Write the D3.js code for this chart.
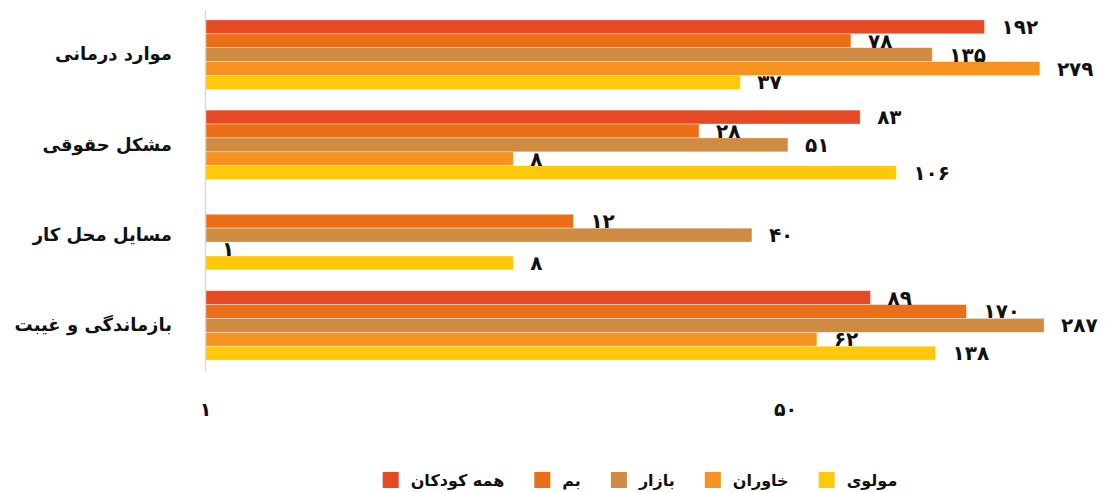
<!DOCTYPE html>
<html>
<head>
<meta charset="utf-8">
<script src="https://cdn.jsdelivr.net/npm/d3@7"></script>
<style>
  html, body { margin: 0; padding: 0; background: #fff; }
  svg { display: block; font-family: "DejaVu Sans", sans-serif; }
</style>
</head>
<body>
<svg id="chart" width="1105" height="492"></svg>
<script>
// Categories (top to bottom) and series (top to bottom within each group)
const categories = ["موارد درمانی", "مشکل حقوقی", "مسایل محل کار", "بازماندگی و غیبت"];
const seriesNames = ["همه کودکان", "بم", "بازار", "خاوران", "مولوی"];
const seriesColors = ["#E64A24", "#EA6F18", "#CE8B41", "#F6921F", "#FFC80A"];

// Values per series, in category order (null = no value)
const allChildren = [192, 83, null, 89];
const bam = [78, 28, 12, 170];
const bazar = [135, 51, 40, 287];
const khavaran = [279, 8, 1, 62];
const molavi = [37, 106, 8, 138];

const xTicks = [1, 50];

const seriesValues = [allChildren, bam, bazar, khavaran, molavi];

const faDigits = "۰۱۲۳۴۵۶۷۸۹";
const toFa = n => String(n).replace(/\d/g, d => faDigits[d]);

const svg = d3.select("#chart");

// Logarithmic value axis
const x = d3.scaleLog().domain([1, 50]).range([205, 785]);

const y = d3.scaleBand()
  .domain(categories)
  .range([9.5, 370.5])
  .paddingInner(0.23)
  .paddingOuter(0.115);

const ySub = d3.scaleBand()
  .domain(seriesNames)
  .range([0, y.bandwidth()]);

const color = d3.scaleOrdinal().domain(seriesNames).range(seriesColors);

const rows = [];
categories.forEach((c, ci) => {
  seriesNames.forEach((s, si) => {
    const v = seriesValues[si][ci];
    if (v != null) rows.push({ category: c, series: s, value: v });
  });
});

// Bars
svg.append("g")
  .selectAll("rect")
  .data(rows)
  .join("rect")
  .attr("x", x(1))
  .attr("y", d => y(d.category) + ySub(d.series))
  .attr("width", d => x(d.value) - x(1))
  .attr("height", ySub.bandwidth())
  .attr("fill", d => color(d.series))
  .attr("stroke", "rgba(255,255,255,0.45)")
  .attr("stroke-width", 0.8);

// Value labels
svg.append("g")
  .selectAll("text")
  .data(rows)
  .join("text")
  .attr("x", d => x(d.value) + 17)
  .attr("y", d => y(d.category) + ySub(d.series) + ySub.bandwidth() / 2)
  .attr("dy", "0.35em")
  .attr("font-size", 20)
  .attr("font-weight", "bold")
  .attr("fill", "#111")
  .text(d => toFa(d.value));

// Category axis
const yAxis = svg.append("g")
  .attr("transform", `translate(${x(1)},0)`)
  .call(d3.axisLeft(y).tickSize(0).tickSizeOuter(0).tickPadding(33));
yAxis.select(".domain").attr("stroke", "#d9d9d9").attr("stroke-width", 1.5);
yAxis.selectAll("text")
  .attr("font-size", 18)
  .attr("font-weight", "bold")
  .attr("fill", "#111")
  .attr("font-family", "DejaVu Sans, sans-serif");

// Value axis tick labels
const xAxis = svg.append("g")
  .attr("transform", "translate(0,395)")
  .call(d3.axisBottom(x).tickValues(xTicks).tickFormat(toFa).tickSize(0).tickPadding(8));
xAxis.select(".domain").remove();
xAxis.selectAll("text")
  .attr("font-size", 19)
  .attr("font-weight", "bold")
  .attr("fill", "#111")
  .attr("font-family", "DejaVu Sans, sans-serif");

// Legend: swatch followed by label, centred under the plot
const legend = svg.append("g");
const items = legend.selectAll("g")
  .data(seriesNames)
  .join("g");
items.append("rect")
  .attr("width", 16)
  .attr("height", 16)
  .attr("y", -8)
  .attr("fill", d => color(d));
items.append("text")
  .attr("x", 28)
  .attr("dy", "0.35em")
  .attr("font-size", 16)
  .attr("font-weight", "bold")
  .attr("fill", "#111")
  .text(d => d);

let cursor = 0;
const gap = 30;
items.each(function () {
  const g = d3.select(this);
  const w = 28 + g.select("text").node().getComputedTextLength();
  g.attr("transform", `translate(${cursor},0)`);
  cursor += w + gap;
});
const totalWidth = cursor - gap;
legend.attr("transform", `translate(${640 - totalWidth / 2},480)`);
</script>
</body>
</html>
